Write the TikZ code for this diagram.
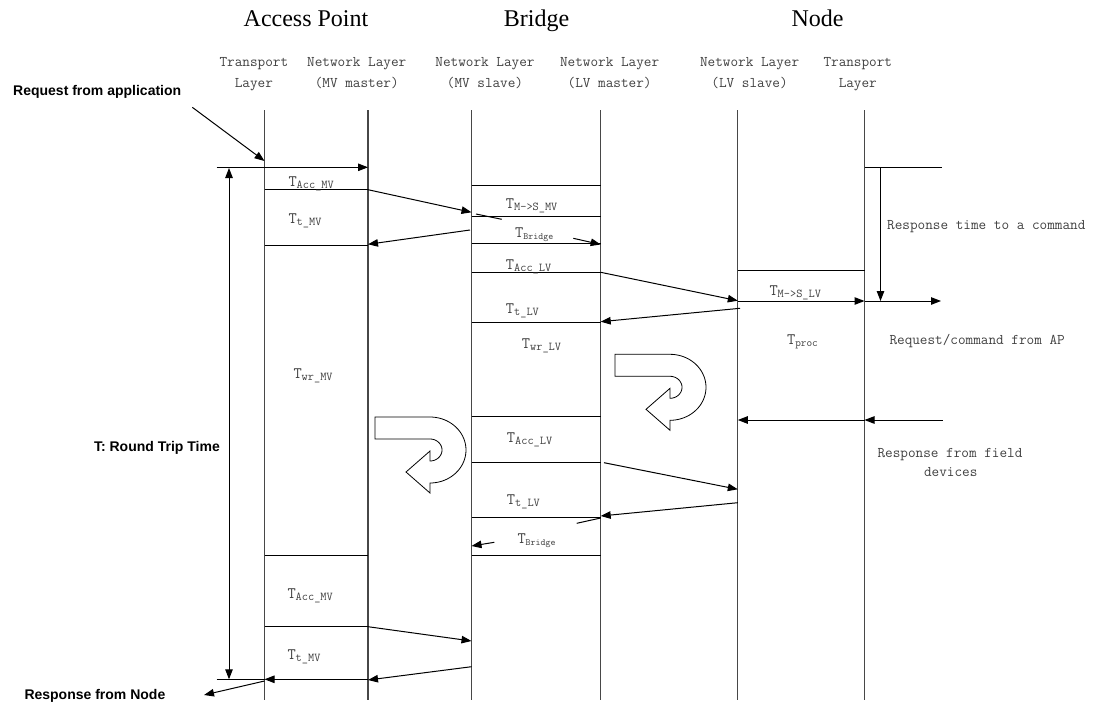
\documentclass[tikz,border=0pt]{standalone}
\usepackage{fontspec}
\setmainfont{Liberation Serif}
\newfontfamily\sansf{Liberation Sans}
\usetikzlibrary{arrows.meta,calc}
\newcommand\tlab[2][12]{{\ttfamily\fontsize{16}{16}\selectfont T\raisebox{-2pt}{\fontsize{#1}{#1}\selectfont #2}}}
\begin{document}
\begin{tikzpicture}[x=1pt,y=-1pt,
  life/.style={line width=1.3pt, draw=black!72},
  hl/.style={line width=1pt},
  arr/.style={line width=1pt, -{Triangle[length=10pt,width=7.5pt]}},
  dbl/.style={line width=1pt, {Triangle[length=10pt,width=7.5pt]}-{Triangle[length=10pt,width=7.5pt]}},
  mono/.style={font=\ttfamily\fontsize{14.8}{16}\selectfont, text=black!75, inner sep=0pt, anchor=base},
  hdr/.style={font=\fontsize{24}{24}\selectfont, inner sep=0pt, anchor=base},
  bold/.style={font=\sansf\bfseries\fontsize{14}{14}\selectfont, inner sep=0pt},
  lab/.style={text=black!75, inner sep=0pt, anchor=base west},
  uturn/.pic={
    \draw[line width=0.8pt, fill=white] (-55,-33) -- (0,-33)
      -- plot[domain=-90:90,samples=40] ({36*cos(\x)},{33*sin(\x)})
      -- (0,43) -- (-24,22) -- (0,1) -- (0,11)
      -- plot[domain=90:-90,samples=30] ({12*cos(\x)},{11*sin(\x)})
      -- (-55,-11) -- cycle;
  }
]
\useasboundingbox (0,0) rectangle (1100,704);

% headers
\node[hdr] (ap) at (306,26.3) {Access Point};
\node[hdr] (br) at (536.5,26.3) {Bridge};
\node[hdr] (nd) at (817.6,26.3) {Node};

\node[mono] (s1a) at (253.9,66) {Transport};
\node[mono] (s1b) at (253.9,87.6) {Layer};
\node[mono] (s2a) at (356.7,66) {Network Layer};
\node[mono] (s2b) at (356.7,87.6) {(MV master)};
\node[mono] (s3a) at (485,66) {Network Layer};
\node[mono] (s3b) at (485,87.6) {(MV slave)};
\node[mono] (s4a) at (609.6,66) {Network Layer};
\node[mono] (s4b) at (609.6,87.6) {(LV master)};
\node[mono] (s5a) at (749.6,66) {Network Layer};
\node[mono] (s5b) at (749.6,87.6) {(LV slave)};
\node[mono] (s6a) at (857.8,66) {Transport};
\node[mono] (s6b) at (857.8,87.6) {Layer};

% lifelines
\foreach \n/\x in {1/264.5,2/368,3/471.5,4/600.7,5/737.8,6/864.5}{
  \coordinate (L\n) at (\x,110);
  \coordinate (B\n) at (\x,700);
  \draw[life] (L\n) -- (B\n);
}

% side texts
\node[bold, anchor=base west] (req) at (13,95.7) {Request from application};
\node[bold, anchor=base west] (resp) at (24.3,699.3) {Response from Node};
\node[bold, anchor=base east] (rtt) at (220,451.7) {T: Round Trip Time};
\node[mono, anchor=base west] (rtc) at (887,229.5) {Response time to a command};
\node[mono, anchor=base west] (rca) at (889.3,344.5) {Request/command from AP};
\node[mono] (rfd1) at (950,457.2) {Response from field};
\node[mono] (rfd2) at (950.7,476.2) {devices};

% AP horizontal lines
\foreach \y in {189.7,245,555,626.7}{ \draw[hl] (L1 |- 0,\y) -- (L2 |- 0,\y); }
% Bridge horizontal lines
\foreach \y in {185.7,216.3,243.7,272.3,322.7,416,462.7,517.7,555}{ \draw[hl] (L3 |- 0,\y) -- (L4 |- 0,\y); }
% Node horizontal line
\draw[hl] (L5 |- 0,270.7) -- (L6 |- 0,270.7);
\coordinate (rtop) at (942,167.3);
\draw[hl] (L6 |- 0,167.3) -- (rtop);

% round trip
\coordinate (rt1) at (216.7,167.3);
\coordinate (rt2) at (216.7,679.3);
\draw[dbl] (229,679.3) -- (229,168);
\draw[hl] (rt2) -- (L1 |- 0,679.3);

% arrows
\coordinate (reqs) at (192.3,107.3);
\draw[arr] (reqs) -- (L1 |- 0,161);
\draw[arr] (rt1) -- (L2 |- 0,167.3);
\draw[arr] (L2 |- 0,189.7) -- (L3 |- 0,212.3);
\draw[hl] (476,214) -- (501.7,219.3);
\draw[arr] (470,230) -- (L2 |- 0,244.3);
\draw[arr] (573.3,238.3) -- (L4 |- 0,244.5);
\draw[arr] (L4 |- 0,272.3) -- (L5 |- 0,300.7);
\draw[arr] (L5 |- 0,301) -- (L6 |- 0,301);
\coordinate (rreq) at (941,301);
\draw[arr] (L6 |- 0,301) -- (rreq);
\draw[arr] (880.5,167.3) -- (880.5,301);
\draw[arr] (740,308.3) -- (L4 |- 0,321.7);
\coordinate (rfd) at (942.7,420);
\draw[arr] (rfd) -- (L6 |- 0,420);
\draw[arr] (L6 |- 0,420) -- (L5 |- 0,420);
\draw[arr] (604,462.7) -- (L5 |- 0,489.3);
\draw[arr] (L5 |- 0,502.7) -- (L4 |- 0,516);
\draw[hl] (576.7,523.3) -- (L4 |- 0,518);
\draw[arr] (494.3,542.3) -- (L3 |- 0,546);
\draw[arr] (L2 |- 0,626.7) -- (L3 |- 0,641);
\draw[arr] (L3 |- 0,666.7) -- (L2 |- 0,680);
\draw[arr] (L2 |- 0,679.3) -- (L1 |- 0,679.3);
\coordinate (rnode) at (204,695);
\draw[arr] (L1 |- 0,681) -- (rnode);

% u-turn arrows
\pic at (670,387.3) {uturn};
\pic at (430,450) {uturn};

% labels
\node[lab] (t1) at (288.3,186.5) {\tlab{Acc\_MV}};
\node[lab] (t2) at (288.3,223) {\tlab{t\_MV}};
\node[lab] (t3) at (505.7,208) {\tlab{M->S\_MV}};
\node[lab] (t4) at (515,237.8) {\tlab[9.5]{Bridge}};
\node[lab] (t5) at (505.7,269.8) {\tlab{Acc\_LV}};
\node[lab] (t6) at (505.7,313) {\tlab{t\_LV}};
\node[lab] (t7) at (521.7,348) {\tlab{wr\_LV}};
\node[lab] (t8) at (769.3,295.5) {\tlab{M->S\_LV}};
\node[lab] (t9) at (786.8,344.8) {\tlab[11]{proc}};
\node[lab] (t10) at (293.3,378) {\tlab{wr\_MV}};
\node[lab] (t11) at (506.7,442) {\tlab{Acc\_LV}};
\node[lab] (t12) at (506.7,504) {\tlab{t\_LV}};
\node[lab] (t13) at (517.3,543) {\tlab[9.5]{Bridge}};
\node[lab] (t14) at (287.3,598) {\tlab{Acc\_MV}};
\node[lab] (t15) at (287.3,659.7) {\tlab{t\_MV}};
\end{tikzpicture}
\end{document}
